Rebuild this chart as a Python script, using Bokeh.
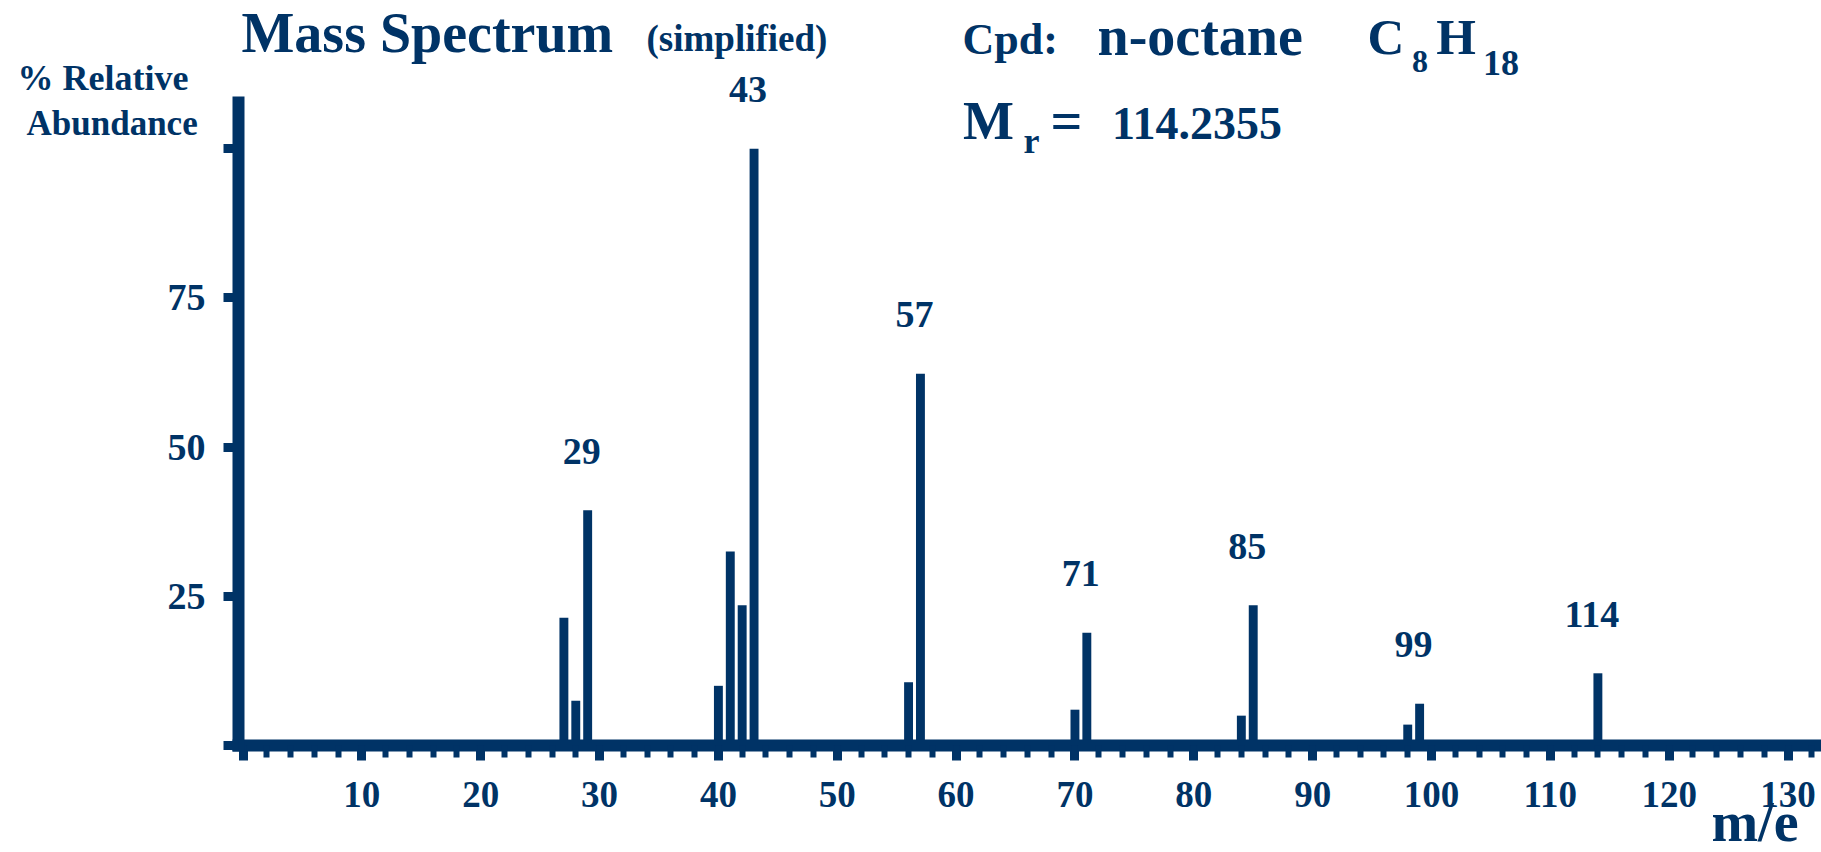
from bokeh.plotting import figure
from bokeh.models import FixedTicker, Range1d, Label, ColumnDataSource
from bokeh.embed import file_html
from bokeh.resources import INLINE
from bokeh.core.properties import value

# ---- data ----
mz = [27, 28, 29, 40, 41, 42, 43, 56, 57, 70, 71, 84, 85, 98, 99, 114]
abundance = [21.4, 7.5, 39.4, 10.0, 32.5, 23.5, 100.0, 10.6, 62.3, 6.0, 18.9,
             5.0, 23.5, 3.5, 7.0, 12.1]
peak_mz = [29, 43, 57, 71, 85, 99, 114]
x_major_ticks = list(range(0, 131, 10))
x_minor_ticks = list(range(0, 133, 2))
y_ticks = [0, 25, 50, 75, 100]
y_tick_labels = ["", "25", "50", "75", ""]
x_tick_labels = [""] + [str(t) for t in x_major_ticks[1:]]

NAVY = "#003366"
FONT = "Liberation Serif"
MID = 0.3375   # em-box centre above the baseline for Liberation Serif

# ---- layout: the frame fills the whole canvas; pixel <-> data helpers ----
W, H = 1821, 852
ZERO_X, ZERO_Y = 242.5, 745.0      # canvas pixel of m/e = 0 and abundance = 0
PX_PER_X, PX_PER_Y = 11.885, 5.968


def dx(px):
    return (px - ZERO_X) / PX_PER_X


def dy(py):
    return (ZERO_Y - py) / PX_PER_Y


p = figure(width=W, height=H, output_backend="svg", toolbar_location=None,
           x_range=Range1d(dx(0), dx(W)), y_range=Range1d(dy(H), dy(0)),
           min_border=0)
p.min_border_left = p.min_border_right = p.min_border_top = p.min_border_bottom = 0
p.outline_line_color = None
p.grid.visible = False
p.background_fill_color = "white"
p.border_fill_color = "white"

src = ColumnDataSource(dict(x=mz, top=abundance))
p.vbar(x="x", top="top", bottom=0, width=0.75, source=src,
       fill_color=NAVY, line_color=None)

ab_of = dict(zip(mz, abundance))
lab_src = ColumnDataSource(dict(x=peak_mz, y=[ab_of[m] for m in peak_mz],
                                t=[str(m) for m in peak_mz]))
p.text(x="x", y="y", text="t", source=lab_src, x_offset=-6, y_offset=-59,
       text_align="center", text_baseline="middle",
       text_font=value(FONT), text_font_style="bold",
       text_font_size="38px", text_color=NAVY, level="overlay")

# x axis (drawn at abundance 0)
xa = p.xaxis[0]
xa.ticker = FixedTicker(ticks=x_major_ticks, minor_ticks=x_minor_ticks)
xa.major_label_overrides = dict(zip(x_major_ticks, x_tick_labels))
xa.fixed_location = 0
xa.bounds = (dx(232), dx(W))
# y axis (drawn just left of m/e 0)
ya = p.yaxis[0]
ya.ticker = FixedTicker(ticks=y_ticks, minor_ticks=[])
ya.major_label_overrides = dict(zip(y_ticks, y_tick_labels))
ya.fixed_location = dx(238)
ya.bounds = (dy(751), dy(96))

for ax in (xa, ya):
    ax.axis_line_color = NAVY
    ax.axis_line_width = 12
    ax.major_tick_line_color = NAVY
    ax.major_tick_line_width = 9
    ax.major_tick_in = 0
    ax.major_tick_out = 15
    ax.minor_tick_line_color = NAVY
    ax.minor_tick_line_width = 6
    ax.minor_tick_in = 0
    ax.minor_tick_out = 12
    ax.major_label_text_font = FONT
    ax.major_label_text_font_style = "bold"
    ax.major_label_text_color = NAVY
xa.major_label_text_font_size = "37px"
xa.major_label_standoff = 21
ya.major_label_text_font_size = "38px"
ya.major_label_standoff = 18

# text blocks: (text, x, baseline y in canvas pixels, size, style, align)
texts = [
    ("Mass Spectrum", 241, 51.7, 56, "bold", "left"),
    ("(simplified)", 646, 50, 37, "bold", "left"),
    ("Cpd:", 962, 54, 44, "bold", "left"),
    ("n-octane", 1097, 54, 56, "bold", "left"),
    ("C", 1367, 54, 51, "bold", "left"),
    ("8", 1411.6, 72, 32, "bold", "left"),
    ("H", 1435.7, 54, 51, "bold", "left"),
    ("18", 1482.6, 75, 36, "bold", "left"),
    ("M", 962.5, 139, 54, "bold", "left"),
    ("r", 1023, 152.7, 36, "bold", "left"),
    ("=", 1050, 139, 56, "bold", "left"),
    ("114.2355", 1111.6, 139, 46, "bold", "left"),
    ("% Relative", 17, 90, 36, "bold", "left"),
    ("Abundance", 26, 135, 35, "bold", "left"),
    ("m/e", 1798, 840, 56, "bold", "right"),
]
for t, rx, ry, size, style, align in texts:
    p.add_layout(Label(x=dx(rx), y=dy(ry - MID * size), text=t,
                       text_font=FONT, text_font_size=f"{size}px",
                       text_font_style=style, text_color=NAVY,
                       text_align=align, text_baseline="middle"))

open("out.html", "w").write(file_html(p, INLINE))
